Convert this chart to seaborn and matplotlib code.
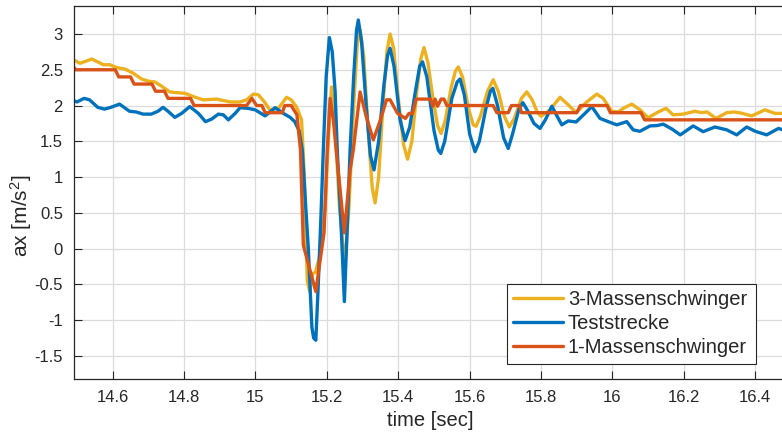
import numpy as np
import pandas as pd
import matplotlib
matplotlib.use("Agg")
import matplotlib.pyplot as plt
from matplotlib.patches import Rectangle
import seaborn as sns

# ---- measured acceleration traces ----
# 3-Massenschwinger
t_m3 = [14.490, 14.508, 14.525, 14.541, 14.558, 14.574, 14.592, 14.611, 14.634, 14.658,
        14.681, 14.700, 14.718, 14.737, 14.760, 14.779, 14.803, 14.831, 14.854, 14.891,
        14.929, 14.957, 14.975, 14.994, 15.008, 15.025, 15.040, 15.064, 15.087, 15.100,
        15.115, 15.129, 15.137, 15.145, 15.152, 15.160, 15.168, 15.180, 15.195, 15.205,
        15.213, 15.222, 15.235, 15.250, 15.262, 15.275, 15.285, 15.293, 15.303, 15.315,
        15.327, 15.335, 15.345, 15.357, 15.368, 15.377, 15.387, 15.400, 15.415, 15.426,
        15.438, 15.452, 15.463, 15.472, 15.483, 15.497, 15.510, 15.520, 15.532, 15.548,
        15.560, 15.568, 15.580, 15.597, 15.610, 15.618, 15.630, 15.650, 15.666, 15.680,
        15.697, 15.711, 15.725, 15.745, 15.760, 15.775, 15.790, 15.800, 15.825, 15.853,
        15.876, 15.898, 15.928, 15.956, 15.974, 15.998, 16.016, 16.030, 16.054, 16.077,
        16.100, 16.128, 16.150, 16.170, 16.198, 16.231, 16.250, 16.265, 16.290, 16.320,
        16.340, 16.360, 16.390, 16.427, 16.455, 16.490]
a_m3 = [2.64, 2.59, 2.62, 2.65, 2.61, 2.57, 2.57, 2.53, 2.51, 2.45,
        2.37, 2.34, 2.33, 2.27, 2.19, 2.18, 2.17, 2.115, 2.08, 2.09,
        2.05, 2.05, 2.08, 2.16, 2.15, 2.05, 1.94, 1.96, 2.115, 2.08,
        1.98, 1.80, 1.00, -0.45, -0.60, -0.35, -0.33, -0.10, 0.55, 1.60,
        2.26, 1.80, 0.60, -0.25, 0.60, 2.00, 2.85, 3.06, 2.70, 1.70,
        0.85, 0.64, 1.00, 2.00, 2.75, 3.00, 2.80, 2.10, 1.45, 1.25,
        1.50, 2.20, 2.65, 2.81, 2.60, 2.10, 1.72, 1.61, 1.80, 2.25,
        2.48, 2.54, 2.40, 1.95, 1.73, 1.71, 1.85, 2.20, 2.36, 2.20,
        1.85, 1.70, 1.82, 2.10, 2.19, 2.08, 1.90, 1.85, 1.94, 2.115,
        2.01, 1.90, 2.05, 2.16, 2.10, 1.92, 1.91, 1.96, 2.02, 1.94,
        1.83, 1.91, 1.96, 1.87, 1.88, 1.92, 1.90, 1.91, 1.82, 1.90,
        1.91, 1.895, 1.855, 1.94, 1.89, 1.89]

# Teststrecke
t_test = [14.490, 14.500, 14.520, 14.535, 14.558, 14.577, 14.595, 14.619, 14.647, 14.666,
          14.685, 14.708, 14.727, 14.741, 14.755, 14.774, 14.793, 14.816, 14.840, 14.860,
          14.877, 14.896, 14.910, 14.924, 14.943, 14.957, 14.980, 14.999, 15.027, 15.055,
          15.078, 15.097, 15.110, 15.122, 15.131, 15.148, 15.158, 15.163, 15.169, 15.175,
          15.183, 15.190, 15.198, 15.207, 15.215, 15.223, 15.229, 15.240, 15.249, 15.257,
          15.265, 15.275, 15.283, 15.288, 15.297, 15.310, 15.322, 15.332, 15.345, 15.360,
          15.370, 15.377, 15.388, 15.405, 15.419, 15.432, 15.448, 15.460, 15.468, 15.480,
          15.500, 15.512, 15.519, 15.530, 15.550, 15.565, 15.573, 15.585, 15.600, 15.615,
          15.627, 15.645, 15.658, 15.665, 15.678, 15.695, 15.708, 15.720, 15.738, 15.749,
          15.762, 15.780, 15.797, 15.812, 15.830, 15.845, 15.858, 15.876, 15.898, 15.923,
          15.942, 15.965, 15.988, 16.012, 16.040, 16.058, 16.077, 16.105, 16.125, 16.142,
          16.167, 16.190, 16.226, 16.254, 16.287, 16.320, 16.348, 16.376, 16.400, 16.432,
          16.465, 16.490]
a_test = [2.07, 2.05, 2.10, 2.08, 1.975, 1.95, 1.975, 2.02, 1.92, 1.91,
          1.88, 1.88, 1.92, 1.975, 1.92, 1.835, 1.89, 1.985, 1.89, 1.775,
          1.81, 1.88, 1.87, 1.80, 1.89, 1.97, 1.96, 1.94, 1.855, 1.97,
          1.89, 1.835, 1.775, 1.65, 1.38, 0.00, -1.10, -1.25, -1.28, -0.60,
          0.40, 1.38, 2.40, 2.95, 2.75, 2.20, 1.38, 0.30, -0.74, 0.30,
          1.38, 2.40, 3.05, 3.195, 2.90, 2.00, 1.30, 1.10, 1.50, 2.30,
          2.70, 2.80, 2.55, 1.80, 1.51, 1.70, 2.20, 2.55, 2.61, 2.40,
          1.65, 1.38, 1.33, 1.50, 2.10, 2.33, 2.37, 2.15, 1.60, 1.355,
          1.50, 1.95, 2.20, 2.24, 2.00, 1.55, 1.40, 1.60, 1.95, 2.04,
          1.93, 1.75, 1.68, 1.80, 1.99, 1.85, 1.73, 1.785, 1.77, 1.89,
          1.985, 1.82, 1.775, 1.73, 1.775, 1.66, 1.64, 1.715, 1.72, 1.74,
          1.67, 1.59, 1.715, 1.635, 1.70, 1.66, 1.59, 1.70, 1.64, 1.59,
          1.68, 1.64]

# 1-Massenschwinger
t_m1 = [14.490, 14.497, 14.607, 14.617, 14.650, 14.660, 14.710, 14.720, 14.745, 14.755,
        14.818, 14.828, 14.975, 14.990, 15.003, 15.018, 15.027, 15.075, 15.082, 15.100,
        15.116, 15.126, 15.134, 15.150, 15.169, 15.180, 15.192, 15.201, 15.209, 15.218,
        15.226, 15.249, 15.265, 15.274, 15.293, 15.310, 15.330, 15.350, 15.367, 15.377,
        15.398, 15.420, 15.430, 15.440, 15.450, 15.490, 15.497, 15.503, 15.510, 15.520,
        15.528, 15.536, 15.666, 15.676, 15.708, 15.717, 15.740, 15.745, 15.900, 15.910,
        15.985, 15.994, 16.080, 16.090, 16.490]
a_m1 = [2.54, 2.50, 2.50, 2.40, 2.40, 2.30, 2.30, 2.20, 2.20, 2.10,
        2.10, 2.00, 2.00, 2.10, 2.00, 2.00, 1.90, 1.90, 2.00, 2.00,
        1.87, 1.38, 0.05, -0.25, -0.60, -0.20, 0.22, 1.38, 2.10, 1.80,
        1.38, 0.22, 1.10, 1.38, 2.19, 1.85, 1.52, 1.80, 2.08, 2.08,
        1.89, 1.82, 1.89, 1.89, 2.09, 2.09, 1.99, 2.09, 1.99, 2.09,
        2.09, 2.00, 2.00, 1.90, 1.90, 2.00, 2.00, 1.90, 1.90, 2.00,
        2.00, 1.90, 1.90, 1.80, 1.80]

series_names = ["3-Massenschwinger", "Teststrecke", "1-Massenschwinger"]
series_colors = ["#EDB120", "#0072BD", "#D95319"]

x_ticks = [14.6, 14.8, 15.0, 15.2, 15.4, 15.6, 15.8, 16.0, 16.2, 16.4]
x_tick_labels = ["14.6", "14.8", "15", "15.2", "15.4", "15.6", "15.8", "16", "16.2", "16.4"]
y_ticks = [-1.5, -1.0, -0.5, 0.0, 0.5, 1.0, 1.5, 2.0, 2.5, 3.0]
y_tick_labels = ["-1.5", "-1", "-0.5", "0", "0.5", "1", "1.5", "2", "2.5", "3"]

df = pd.concat([
    pd.DataFrame({"time": t_m3, "ax": a_m3, "series": series_names[0]}),
    pd.DataFrame({"time": t_test, "ax": a_test, "series": series_names[1]}),
    pd.DataFrame({"time": t_m1, "ax": a_m1, "series": series_names[2]}),
], ignore_index=True)

# ---- styling ----
sns.set_style("ticks")
plt.rcParams["font.family"] = ["Liberation Sans", "DejaVu Sans"]
plt.rcParams["mathtext.fontset"] = "custom"
plt.rcParams["mathtext.rm"] = "Liberation Sans"
plt.rcParams["mathtext.default"] = "regular"

W, H = 782, 432
fig = plt.figure(figsize=(W / 100, H / 100), dpi=100)
ax_left, ax_right, ax_top, ax_bottom = 74, 787.4, 6, 379.3
ax = fig.add_axes([ax_left / W, (H - ax_bottom) / H,
                   (ax_right - ax_left) / W, (ax_bottom - ax_top) / H])

sns.lineplot(data=df, x="time", y="ax", hue="series", hue_order=series_names,
             palette=series_colors, estimator=None, sort=True, linewidth=2.4,
             ax=ax, legend=True)

ax.set_xlim(14.4916, 16.49)
ax.set_ylim(-1.826, 3.391)
ax.set_xticks(x_ticks, x_tick_labels)
ax.set_yticks(y_ticks, y_tick_labels)

axis_col = "#262626"
ax.grid(True, color="#dcdcdc", linewidth=0.9)
ax.set_axisbelow(True)
for side in ["left", "top", "bottom"]:
    ax.spines[side].set_visible(True)
    ax.spines[side].set_color(axis_col)
    ax.spines[side].set_linewidth(0.9)
ax.spines["right"].set_visible(False)
ax.tick_params(axis="both", direction="in", length=5.5, width=0.8,
               colors=axis_col, labelsize=12, labelcolor="#262626",
               top=True, right=False, pad=8)

ax.set_xlabel("time [sec]", fontsize=14.5, color="#262626", labelpad=4)
ax.set_ylabel("ax [m/s$^{2}$]", fontsize=15, color="#262626")
ax.yaxis.set_label_coords((34 - ax_left) / (ax_right - ax_left),
                          (ax_bottom - 216) / (ax_bottom - ax_top))

# legend: entries without frame, box drawn in figure pixels
handles, labels = ax.get_legend_handles_labels()
if ax.get_legend() is not None:
    ax.get_legend().remove()
lx0, ly0, lx1, ly1 = 507.3, 284.3, 755.7, 363.7
fig.patches.append(Rectangle((lx0 / W, (H - ly1) / H), (lx1 - lx0) / W, (ly1 - ly0) / H,
                             transform=fig.transFigure, facecolor="white",
                             edgecolor=axis_col, linewidth=0.8, zorder=5))
leg = fig.legend(handles, labels, loc="upper left",
                 bbox_to_anchor=(lx0 / W, (H - ly0) / H),
                 bbox_transform=fig.transFigure, borderaxespad=0,
                 fontsize=14.5, handlelength=2.45, handletextpad=0.25,
                 labelspacing=0.25, borderpad=0.3, frameon=False)
leg.set_zorder(6)
for line in leg.get_lines():
    line.set_linewidth(2.4)

fig.savefig("out.png", dpi=100)
